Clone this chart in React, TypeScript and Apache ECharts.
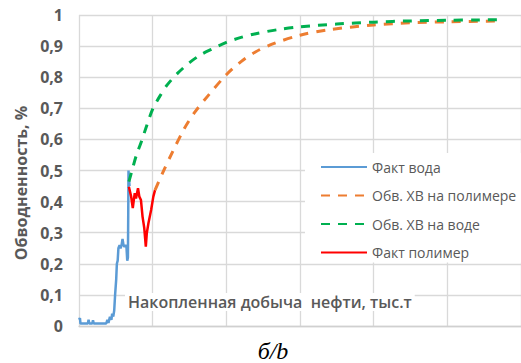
import React, { useEffect, useRef } from "react";
import * as echarts from "echarts";

const seriesNames = ["Факт вода", "Обв. ХВ на полимере", "Обв. ХВ на воде", "Факт полимер"];

const factWater: [number, number][] = [
  [0, 0.02], [0.013, 0.025], [0.02, 0.008], [0.12, 0.008], [0.13, 0.02], [0.14, 0.008],
  [0.18, 0.008], [0.19, 0.018], [0.2, 0.008], [0.37, 0.008], [0.385, 0.02], [0.4, 0.01],
  [0.42, 0.03], [0.44, 0.02], [0.45, 0.04], [0.465, 0.03], [0.478, 0.05], [0.49, 0.1],
  [0.505, 0.15], [0.514, 0.2], [0.525, 0.21], [0.535, 0.25], [0.551, 0.26], [0.564, 0.25],
  [0.578, 0.26], [0.591, 0.28], [0.604, 0.26], [0.618, 0.255], [0.631, 0.26], [0.644, 0.255],
  [0.655, 0.21], [0.664, 0.22], [0.668, 0.35], [0.672, 0.5], [0.68, 0.47], [0.686, 0.45],
];

const factPolymer: [number, number][] = [
  [0.677, 0.448], [0.708, 0.416], [0.73, 0.379], [0.744, 0.405], [0.757, 0.427],
  [0.774, 0.41], [0.801, 0.443], [0.819, 0.416], [0.841, 0.405], [0.863, 0.351],
  [0.886, 0.315], [0.907, 0.255], [0.92, 0.298], [0.943, 0.331], [0.979, 0.373],
  [1.009, 0.416], [1.032, 0.437],
];

const forecastWater: [number, number][] = [
  [0.677, 0.464], [0.72, 0.5], [0.78, 0.55], [0.85, 0.595], [0.92, 0.645], [1.0, 0.697],
  [1.1, 0.74], [1.2, 0.776], [1.34, 0.813], [1.5, 0.847], [1.65, 0.872], [1.8, 0.89],
  [2.0, 0.912], [2.2, 0.928], [2.4, 0.94], [2.7, 0.953], [3.0, 0.962], [3.5, 0.971],
  [4.0, 0.977], [4.5, 0.981], [5.0, 0.983], [5.4, 0.984], [5.76, 0.985],
];

const forecastPolymer: [number, number][] = [
  [1.032, 0.437], [1.14, 0.495], [1.27, 0.56], [1.43, 0.635], [1.58, 0.69], [1.75, 0.74],
  [2.0, 0.808], [2.2, 0.85], [2.4, 0.882], [2.63, 0.907], [3.0, 0.935], [3.37, 0.952],
  [4.0, 0.968], [4.5, 0.975], [5.0, 0.978], [5.72, 0.981],
];

const yAxisTitle = "Обводненность, %";
const xAxisTitle = "Накопленная добыча  нефти, тыс.т";
const caption = "б/b";

const FONT = "'Open Sans', 'Noto Sans', sans-serif";
const GREY = "#595959";

export default function App() {
  const ref = useRef<HTMLDivElement>(null);
  useEffect(() => {
    if (!ref.current) return;
    const chart = echarts.init(ref.current, undefined, { renderer: "svg" });
    const dash = [9, 8];
    chart.setOption({
      animation: false,
      backgroundColor: "#ffffff",
      grid: { left: 79, top: 15, bottom: 37, right: -9 },
      xAxis: {
        type: "value",
        min: 0,
        max: 6,
        interval: 1,
        axisLabel: { show: false },
        axisTick: { show: false },
        axisLine: { show: true, lineStyle: { color: "#d0d0d0", width: 1.3 } },
        splitLine: { show: true, lineStyle: { color: "#d9d9d9", width: 1.3 } },
      },
      yAxis: {
        type: "value",
        min: 0,
        max: 1,
        interval: 0.1,
        axisTick: { show: false },
        axisLine: { show: false },
        splitLine: { show: true, lineStyle: { color: "#d9d9d9", width: 1.3 } },
        axisLabel: {
          margin: 16,
          color: GREY,
          fontSize: 16,
          fontWeight: "bold",
          fontFamily: FONT,
          formatter: (v: number) => String(Math.round(v * 10) / 10).replace(".", ","),
        },
      },
      legend: {
        orient: "vertical",
        left: 305,
        top: 153,
        padding: [7, 6, 3, 15],
        backgroundColor: "#ffffff",
        itemWidth: 46,
        itemHeight: 14,
        itemGap: 14.5,
        itemStyle: { opacity: 0 },
        textStyle: { color: GREY, fontSize: 14, fontFamily: FONT },
        data: seriesNames,
      },
      graphic: [
        {
          type: "text",
          left: 125,
          top: 293,
          z: 100,
          style: {
            text: xAxisTitle,
            fill: GREY,
            font: `600 16px ${FONT}`,
            backgroundColor: "#ffffff",
            padding: [1, 3, 1, 3],
          },
        },
        {
          type: "text",
          x: 20.5,
          y: 183,
          rotation: Math.PI / 2,
          style: {
            text: yAxisTitle,
            fill: GREY,
            font: `bold 16px ${FONT}`,
            align: "center",
            verticalAlign: "middle",
          },
        },
        {
          type: "text",
          x: 273,
          y: 351,
          style: {
            text: caption,
            fill: "#000000",
            font: "italic 24px 'Liberation Serif', 'DejaVu Serif', serif",
            align: "center",
            verticalAlign: "middle",
          },
        },
      ],
      series: [
        {
          name: seriesNames[0],
          type: "line",
          data: factWater,
          symbol: "none",
          lineStyle: { color: "#5B9BD5", width: 2.5 },
          itemStyle: { color: "#5B9BD5" },
          z: 2,
        },
        {
          name: seriesNames[1],
          type: "line",
          data: forecastPolymer,
          symbol: "none",
          smooth: 0.3,
          lineStyle: { color: "#ED7D31", width: 3, type: dash },
          itemStyle: { color: "#ED7D31" },
          z: 4,
        },
        {
          name: seriesNames[2],
          type: "line",
          data: forecastWater,
          symbol: "none",
          smooth: 0.3,
          lineStyle: { color: "#00B050", width: 3, type: dash },
          itemStyle: { color: "#00B050" },
          z: 5,
        },
        {
          name: seriesNames[3],
          type: "line",
          data: factPolymer,
          symbol: "none",
          lineStyle: { color: "#FF0000", width: 2.5 },
          itemStyle: { color: "#FF0000" },
          z: 3,
        },
      ],
    });
    return () => chart.dispose();
  }, []);
  return (
    <div
      ref={ref}
      style={{ position: "absolute", left: 0, top: 0, width: 521, height: 363 }}
    />
  );
}
